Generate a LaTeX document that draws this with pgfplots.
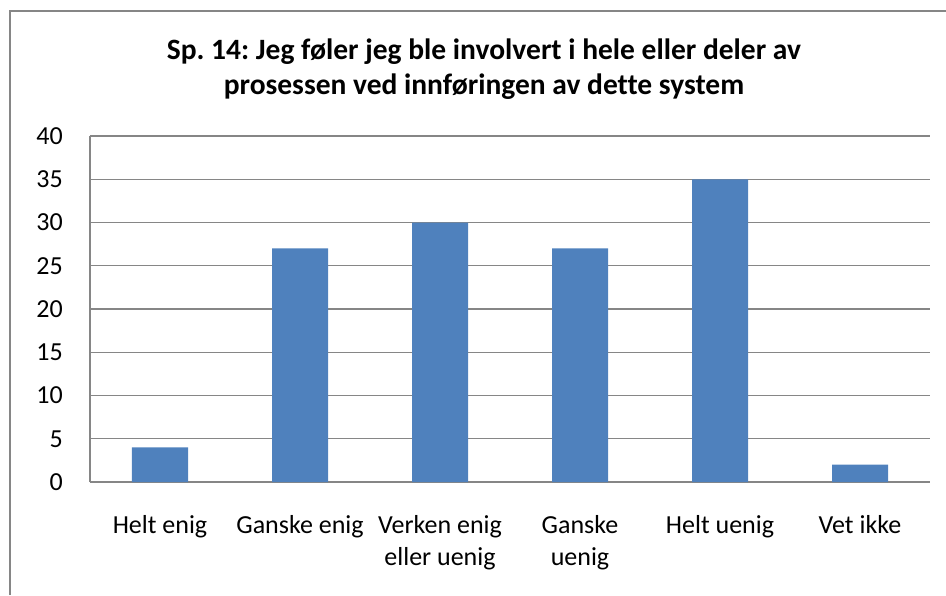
\documentclass[border=0pt]{standalone}
\usepackage{fontspec}
\setmainfont{Carlito}[Ligatures=NoCommon]
\usepackage{pgfplots}
\pgfplotsset{compat=1.18}
\definecolor{barblue}{RGB}{79,129,189}
\definecolor{gridgray}{RGB}{134,134,134}

\begin{document}
\frenchspacing
\begin{tikzpicture}[x=1pt,y=1pt]
\useasboundingbox (0,0) rectangle (946,595);
\draw[gridgray, line width=1.5pt] (10,0) -- (10,584) -- (946,584);
\node[font=\bfseries\fontsize{29.5}{35}\selectfont, align=center, anchor=base] at (484,500)
  {Sp. 14: Jeg føler jeg ble involvert i hele eller deler av\\prosessen ved innføringen av dette system};
\begin{axis}[
    at={(90pt,113pt)}, anchor=south west,
    scale only axis, width=840pt, height=346pt,
    xmin=-0.5, xmax=5.5,
    ymin=0, ymax=40,
    ytick distance=5,
    xtick=data,
    xticklabels={Helt enig, Ganske enig, Verken enig\\eller uenig, Ganske\\uenig, Helt uenig, Vet ikke},
    axis x line*=bottom,
    axis y line*=left,
    axis line style={gridgray, line width=1.2pt},
    major tick length=0pt,
    ymajorgrids,
    grid style={gridgray, line width=1.2pt},
    /pgf/number format/assume math mode=true,
    ticklabel style={font=\fontsize{26}{32}\selectfont, inner sep=0pt},
    yticklabel style={anchor=east, xshift=-27pt},
    xticklabel style={align=center, anchor=north, yshift=-33pt},
]
\addplot[ybar, fill=barblue, draw=none, bar width=56pt] coordinates {
    (0,4) (1,27) (2,30) (3,27) (4,35) (5,2)
};
\end{axis}
\end{tikzpicture}
\end{document}
